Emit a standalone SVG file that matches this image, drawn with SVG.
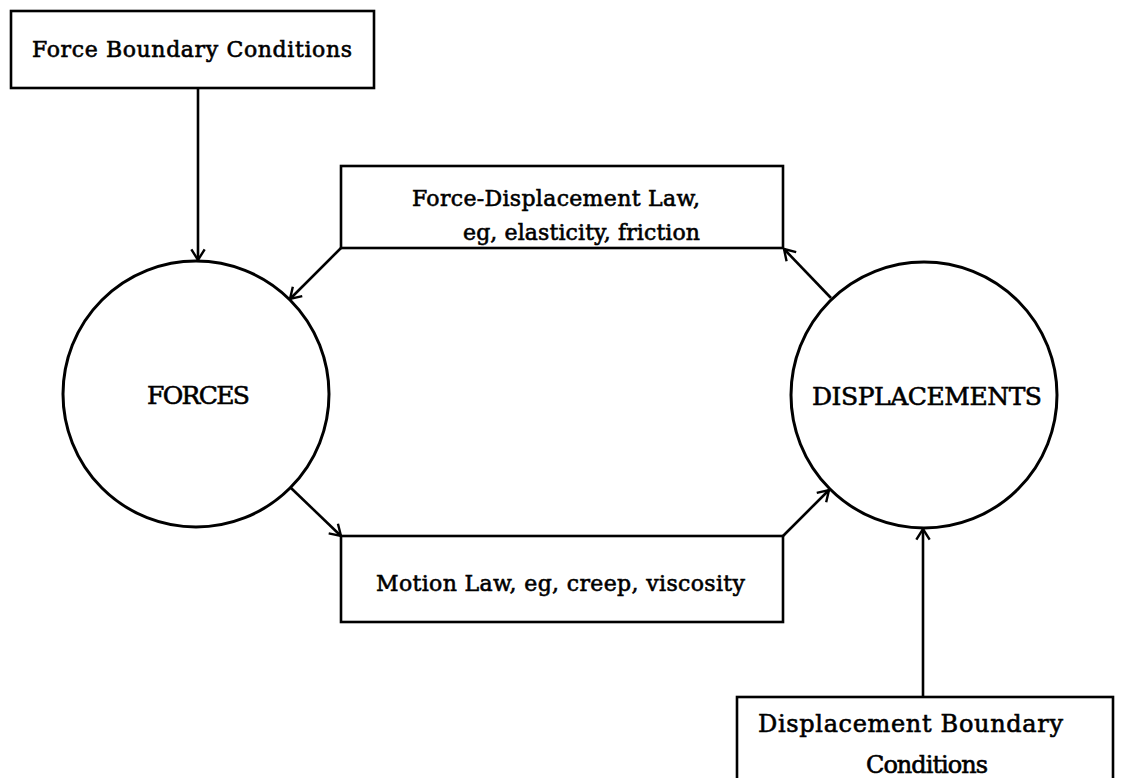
<svg xmlns="http://www.w3.org/2000/svg" width="1121" height="778" viewBox="0 0 1121 778">
<style>
.box{fill:#fff;stroke:#000;stroke-width:2.6}
.circ{fill:#fff;stroke:#000;stroke-width:3}
.t{font-family:"DejaVu Serif","Liberation Serif",serif;font-size:22px;fill:#000;stroke:#000;stroke-width:0.6}
.big{font-size:25px}
.mid{font-size:24px}
.c{fill:none;stroke:#000;stroke-width:2.6}
</style>
<defs>
<marker id="arr" markerUnits="userSpaceOnUse" markerWidth="16" markerHeight="16" refX="10" refY="6" orient="auto" viewBox="0 0 12 12">
<path d="M2,1 L10,6 L2,11" fill="none" stroke="#000" stroke-width="1.8"/>
</marker>
</defs>
<rect width="1121" height="778" fill="#fff"/>
<g id="connectors">
<line class="c" x1="198" y1="88" x2="198" y2="260" marker-end="url(#arr)"/>
<line class="c" x1="341" y1="248" x2="290" y2="299" marker-end="url(#arr)"/>
<line class="c" x1="291" y1="488" x2="341" y2="536" marker-end="url(#arr)"/>
<line class="c" x1="783" y1="536" x2="829" y2="490" marker-end="url(#arr)"/>
<line class="c" x1="831" y1="298" x2="784" y2="249" marker-end="url(#arr)"/>
<line class="c" x1="923" y1="697" x2="923" y2="529" marker-end="url(#arr)"/>
</g>
<g id="force-bc">
<rect class="box" x="11" y="11" width="363" height="77"/>
<text class="t" x="32" y="57" textLength="320">Force Boundary  Conditions</text>
</g>
<g id="forces">
<circle class="circ" cx="196" cy="394" r="133"/>
<text class="t big" x="147" y="404" textLength="103">FORCES</text>
</g>
<g id="displacements">
<circle class="circ" cx="924" cy="395" r="133"/>
<text class="t big" x="812" y="405" textLength="230">DISPLACEMENTS</text>
</g>
<g id="force-displacement-law">
<rect class="box" x="341" y="166" width="442" height="82"/>
<text class="t" x="412" y="206" textLength="288">Force-Displacement Law,</text>
<text class="t" x="463" y="240" textLength="237">eg, elasticity, friction</text>
</g>
<g id="motion-law">
<rect class="box" x="341" y="536" width="442" height="86"/>
<text class="t" x="376" y="591" textLength="369">Motion Law, eg, creep, viscosity</text>
</g>
<g id="displacement-bc">
<rect class="box" x="737" y="697" width="376" height="90"/>
<text class="t mid" x="758" y="732" textLength="305">Displacement Boundary</text>
<text class="t mid" x="866" y="773" textLength="122">Conditions</text>
</g>
</svg>
